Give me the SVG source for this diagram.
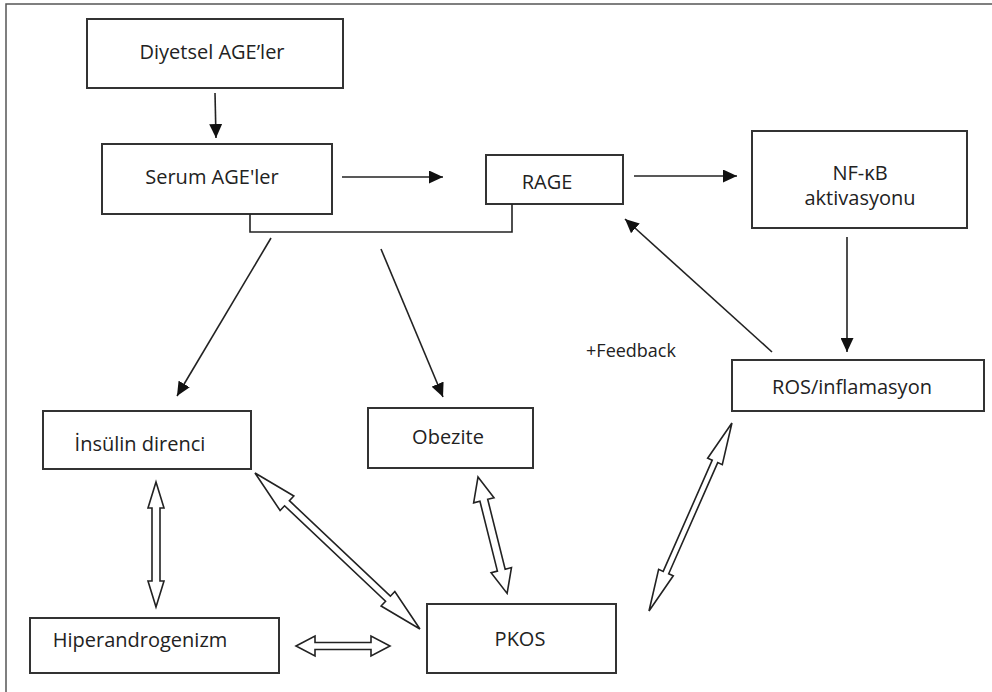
<svg xmlns="http://www.w3.org/2000/svg" width="992" height="692" viewBox="0 0 992 692">
<style>
.box{fill:#fff;stroke:#333;stroke-width:2}
.t{font-family:"Open Sans","Liberation Sans",sans-serif;font-size:20px;fill:#222;text-anchor:middle}
.ln{fill:none;stroke:#222;stroke-width:1.6}
.dbl{fill:#fff;stroke:#222;stroke-width:1.6;stroke-linejoin:miter}
</style>
<defs>
<marker id="ah" markerUnits="userSpaceOnUse" markerWidth="15" markerHeight="13" refX="14" refY="6.5" orient="auto">
<path d="M0,0 L14,6.5 L0,13 z" fill="#111"/>
</marker>
</defs>
<rect width="992" height="692" fill="#fff"/>
<path d="M6,692 V4 H992" fill="none" stroke="#555" stroke-width="1.5"/>

<g id="diyetsel"><rect class="box" x="87" y="19" width="256" height="69"/><text class="t" x="212" y="59">Diyetsel AGE’ler</text></g>
<g id="serum"><rect class="box" x="102" y="144" width="230" height="70"/><text class="t" x="212" y="184">Serum AGE'ler</text></g>
<g id="rage"><rect class="box" x="486" y="155" width="137" height="49"/><text class="t" x="547" y="189">RAGE</text></g>
<g id="nfkb"><rect class="box" x="752" y="131" width="215" height="97"/><text class="t" x="860" y="180">NF-κB</text><text class="t" x="860" y="205">aktivasyonu</text></g>
<g id="ros"><rect class="box" x="732" y="360" width="252" height="51"/><text class="t" x="852" y="394">ROS/inflamasyon</text></g>
<g id="insulin"><rect class="box" x="43" y="411" width="208" height="58"/><text class="t" x="140" y="451">İnsülin direnci</text></g>
<g id="obezite"><rect class="box" x="368" y="408" width="165" height="60"/><text class="t" x="448" y="444">Obezite</text></g>
<g id="hiper"><rect class="box" x="30" y="618" width="249" height="55"/><text class="t" x="140" y="647">Hiperandrogenizm</text></g>
<g id="pkos"><rect class="box" x="427" y="604" width="189" height="69"/><text class="t" x="520" y="646">PKOS</text></g>
<g id="feedback-label"><text class="t" x="631" y="357" style="font-size:18px">+Feedback</text></g>

<g id="connectors">
<line class="ln" x1="215" y1="93" x2="216" y2="138" marker-end="url(#ah)"/>
<line class="ln" x1="342" y1="177" x2="443" y2="177" marker-end="url(#ah)"/>
<line class="ln" x1="634" y1="176" x2="737" y2="176" marker-end="url(#ah)"/>
<line class="ln" x1="847" y1="237" x2="847" y2="352" marker-end="url(#ah)"/>
<line class="ln" x1="772" y1="352" x2="625" y2="219" marker-end="url(#ah)"/>
<polyline class="ln" points="250,214 250,232 512,232 512,204"/>
<line class="ln" x1="271" y1="238" x2="177" y2="396" marker-end="url(#ah)"/>
<line class="ln" x1="381" y1="249" x2="443" y2="397" marker-end="url(#ah)"/>

<polygon class="dbl" transform="translate(156,482) rotate(90)" points="0,0 26,-8 26,-4 99,-4 99,-8 125,0 99,8 99,4 26,4 26,8"/>
<polygon class="dbl" transform="translate(255,473) rotate(43.4)" points="0,0 44,-10 44,-3.5 183,-3.5 183,-10 227,0 183,10 183,3.5 44,3.5 44,10"/>
<polygon class="dbl" transform="translate(296,646)" points="0,0 19,-10 19,-3.5 75,-3.5 75,-10 94,0 75,10 75,3.5 19,3.5 19,10"/>
<polygon class="dbl" transform="translate(478,477) rotate(75.96)" points="0,0 24,-10.5 24,-4 96,-4 96,-10.5 120,0 96,10.5 96,4 24,4 24,10.5"/>
<polygon class="dbl" transform="translate(649,611) rotate(-66.2)" points="0,0 42,-8 42,-3 163.5,-3 163.5,-8 205.5,0 163.5,8 163.5,3 42,3 42,8"/>
</g>
</svg>
